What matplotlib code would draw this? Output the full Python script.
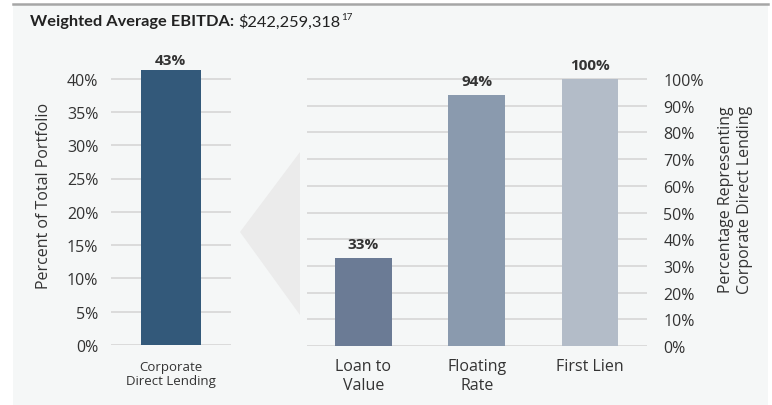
import matplotlib.pyplot as plt
from matplotlib.patches import Polygon, Rectangle
from matplotlib.lines import Line2D

plt.rcParams['font.family'] = ['Open Sans', 'DejaVu Sans']

# left panel: share of total portfolio
left_cats = ["Corporate\nDirect Lending"]
left_heights = [41.3]          # bar height as drawn
left_labels = ["43%"]
left_ticks = [0, 5, 10, 15, 20, 25, 30, 35, 40]

# right panel: share within corporate direct lending
right_cats = ["Loan to\nValue", "Floating\nRate", "First Lien"]
right_values = [33, 94, 100]
right_labels = ["33%", "94%", "100%"]
right_ticks = [0, 10, 20, 30, 40, 50, 60, 70, 80, 90, 100]
right_colors = ["#6b7b95", "#8a9aae", "#b3bcc8"]

bg = "#f5f7f7"
grid_c = "#d9d9d9"
text_c = "#333333"
W, H = 772, 406

fig = plt.figure(figsize=(W / 100, H / 100), dpi=100)
fig.patch.set_facecolor("white")

# panel background + top rule
fig.patches.append(Rectangle((13 / W, 0), (768 - 13) / W, 1 - 5 / H,
                             transform=fig.transFigure, facecolor=bg,
                             edgecolor="none", zorder=-10))
fig.lines.append(Line2D([13 / W, 768 / W], [1 - 4.5 / H, 1 - 4.5 / H],
                        transform=fig.transFigure, color="#a6a6a6", lw=1.8))

# arrow triangle between panels
tri = [(240, 233), (300, 153), (300, 316)]
fig.patches.append(Polygon([(x / W, 1 - y / H) for x, y in tri], closed=True,
                           transform=fig.transFigure, facecolor="#ebebeb",
                           edgecolor="none", zorder=-5))

# title pieces, placed one after another
renderer = fig.canvas.get_renderer()
t1 = fig.text(30 / W, 1 - 22 / H, "Weighted Average EBITDA:", fontsize=11.8,
              fontweight="bold", color="#222222", va="center", family="Lato")
x1 = t1.get_window_extent(renderer).x1
t2 = fig.text((x1 + 4) / W, 1 - 22 / H, "$242,259,318", fontsize=11.8,
              color="#222222", va="center", family="Lato")
x2 = t2.get_window_extent(renderer).x1
fig.text((x2 + 0.5) / W, 1 - 18 / H, "17", fontsize=7, color="#222222",
         va="center", family="Lato")


def style(ax):
    ax.set_facecolor("none")
    for s in ax.spines.values():
        s.set_visible(False)
    ax.grid(axis="y", color=grid_c, lw=1.3)
    ax.set_axisbelow(True)
    ax.tick_params(length=0, colors=text_c, labelsize=11.5)


# left axes
axl = fig.add_axes([110.7 / W, 60 / H, 120 / W, 45 * 6.66 / H])
style(axl)
axl.bar(range(len(left_cats)), left_heights, width=0.5, color="#33597a")
axl.set_xlim(-0.5, 0.5)
axl.set_ylim(0, 45)
axl.set_yticks(left_ticks)
axl.set_yticklabels([f"{t}%" for t in left_ticks])
axl.tick_params(axis="y", pad=9)
axl.set_xticks(range(len(left_cats)))
axl.set_xticklabels(left_cats, fontsize=9.5, linespacing=1.1)
axl.tick_params(axis="x", pad=11)
for i, (h, lab) in enumerate(zip(left_heights, left_labels)):
    axl.annotate(lab, (i, h), xytext=(0, 2), textcoords="offset points",
                 ha="center", va="bottom", fontsize=11, fontweight="bold",
                 color=text_c)
axl.set_ylabel("Percent of Total Portfolio", fontsize=11.5, color=text_c,
               labelpad=11)

# right axes
axr = fig.add_axes([306.7 / W, 59 / H, 340 / W, 110 * 2.67 / H])
style(axr)
axr.bar(range(len(right_cats)), right_values, width=0.5, color=right_colors)
axr.set_xlim(-0.5, 2.5)
axr.set_ylim(0, 110)
axr.yaxis.tick_right()
axr.yaxis.set_label_position("right")
axr.set_yticks(right_ticks)
axr.set_yticklabels([f"{t}%" for t in right_ticks])
axr.tick_params(axis="y", pad=12)
axr.set_xticks(range(len(right_cats)))
axr.set_xticklabels(right_cats, fontsize=11.5, linespacing=1.25, va="top")
axr.tick_params(axis="x", pad=9)
for i, (v, lab) in enumerate(zip(right_values, right_labels)):
    axr.annotate(lab, (i, v), xytext=(0, 5), textcoords="offset points",
                 ha="center", va="bottom", fontsize=11, fontweight="bold",
                 color=text_c)
axr.set_ylabel("Percentage Representing\nCorporate Direct Lending",
               fontsize=11.5, color=text_c, labelpad=10, linespacing=1.3)

fig.savefig("out.png", dpi=100, facecolor=fig.get_facecolor())
